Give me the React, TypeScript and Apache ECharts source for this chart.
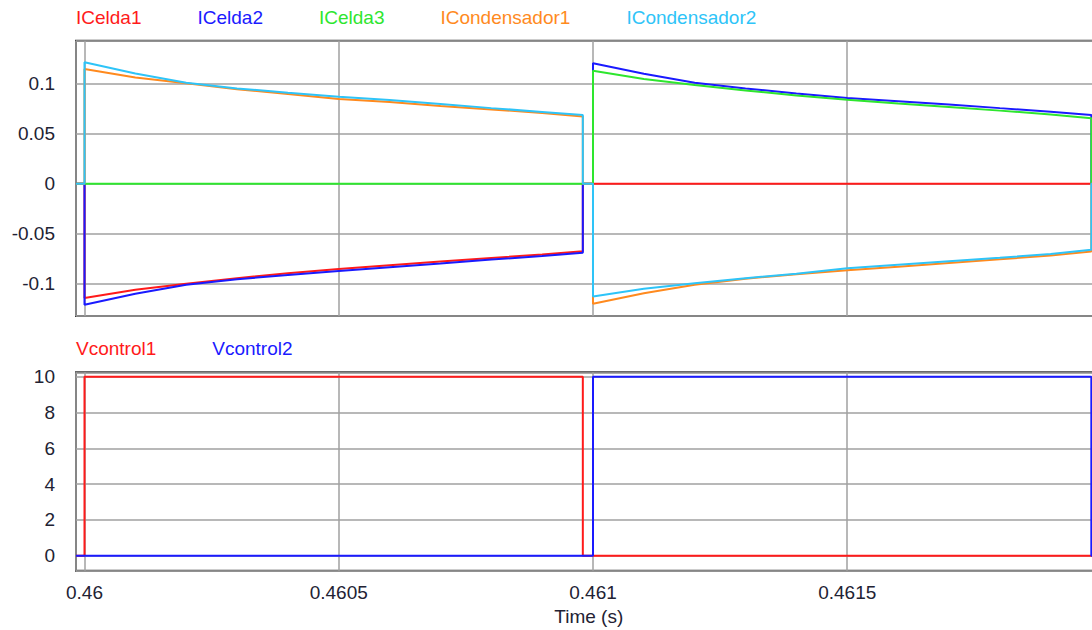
import React, { useEffect, useRef } from "react";
import * as echarts from "echarts";

// ---- Data ----
const topNames = ["ICelda1", "ICelda2", "ICelda3", "ICondensador1", "ICondensador2"];
const topColors = ["#ff1a1a", "#1a1aff", "#2ee62e", "#ff8a1e", "#2ec4f8"];
const bottomNames = ["Vcontrol1", "Vcontrol2"];
const bottomColors = ["#ff1a1a", "#1a1aff"];

const X_MIN = 0.4599833;
const X_MAX = 0.462;
const DEAD_LEVEL = 0;

// first conduction interval (s)
const timesA = [0.46, 0.4601, 0.4602, 0.4603, 0.4604, 0.4605, 0.4606, 0.4607, 0.4608, 0.4609, 0.46098];
// second conduction interval (s)
const timesB = [0.461, 0.4611, 0.4612, 0.4613, 0.4614, 0.4615, 0.4616, 0.4617, 0.4618, 0.4619, 0.46198];

const iCelda1A = [-0.1143, -0.106, -0.1, -0.0945, -0.0895, -0.0852, -0.0815, -0.0778, -0.0742, -0.0708, -0.0675];
const iCelda1B = [0, 0, 0, 0, 0, 0, 0, 0, 0, 0, 0];
const iCelda2A = [-0.121, -0.11, -0.101, -0.0955, -0.0912, -0.0872, -0.0835, -0.0798, -0.0758, -0.0722, -0.069];
const iCelda2B = [0.1207, 0.1103, 0.1012, 0.0955, 0.0905, 0.086, 0.0828, 0.0795, 0.0758, 0.0722, 0.069];
const iCelda3A = [0, 0, 0, 0, 0, 0, 0, 0, 0, 0, 0];
const iCelda3B = [0.1133, 0.105, 0.099, 0.0935, 0.0885, 0.0843, 0.0805, 0.077, 0.0733, 0.0695, 0.0657];
const iCond1A = [0.115, 0.1065, 0.1008, 0.0948, 0.09, 0.085, 0.082, 0.078, 0.0745, 0.071, 0.0673];
const iCond1B = [-0.12, -0.1095, -0.101, -0.095, -0.0905, -0.0865, -0.083, -0.0792, -0.0755, -0.0717, -0.0677];
const iCond2A = [0.1217, 0.1105, 0.1013, 0.0955, 0.0913, 0.0873, 0.0839, 0.08, 0.0758, 0.072, 0.069];
const iCond2B = [-0.1127, -0.105, -0.0995, -0.0945, -0.09, -0.0845, -0.081, -0.0775, -0.074, -0.0702, -0.066];

const vControl1Times = [X_MIN, 0.46, 0.46, 0.46098, 0.46098, X_MAX];
const vControl1Values = [0, 0, 10, 10, 0, 0];
const vControl2Times = [X_MIN, 0.461, 0.461, 0.46198, 0.46198, X_MAX];
const vControl2Values = [0, 0, 10, 10, 0, 0];

function wave(a: number[], b: number[]) {
  const pts: number[][] = [[X_MIN, DEAD_LEVEL], [timesA[0], DEAD_LEVEL]];
  timesA.forEach((t, i) => pts.push([t, a[i]]));
  pts.push([timesA[timesA.length - 1], DEAD_LEVEL], [timesB[0], DEAD_LEVEL]);
  timesB.forEach((t, i) => pts.push([t, b[i]]));
  pts.push([timesB[timesB.length - 1], DEAD_LEVEL], [X_MAX, DEAD_LEVEL]);
  return pts;
}

const topData = [
  wave(iCelda1A, iCelda1B),
  wave(iCelda2A, iCelda2B),
  wave(iCelda3A, iCelda3B),
  wave(iCond1A, iCond1B),
  wave(iCond2A, iCond2B),
];
const bottomData = [
  vControl1Times.map((t, i) => [t, vControl1Values[i]]),
  vControl2Times.map((t, i) => [t, vControl2Values[i]]),
];

const FONT = "'Liberation Sans', Arial, Helvetica, sans-serif";
const TXT = "#222233";
const GRID_LINE = { lineStyle: { color: "#a0a0a0", width: 1.5 } };

export default function App() {
  const ref = useRef<HTMLDivElement>(null);
  useEffect(() => {
    if (!ref.current) return;
    const chart = echarts.init(ref.current, undefined, { renderer: "svg" });
    const labelStyle = { fontSize: 19, color: TXT, fontFamily: FONT };
    const gridBase = {
      left: 76, width: 1025.5, show: true, borderColor: "#383838", borderWidth: 2,
      backgroundColor: "transparent", containLabel: false, outerBoundsMode: "none",
    };
    const option: any = {
      animation: false,
      backgroundColor: "#ffffff",
      textStyle: { fontFamily: FONT },
      legend: [
        {
          left: 66,
          top: 2,
          icon: "none",
          itemWidth: 0,
          itemHeight: 20,
          itemGap: 51,
          selectedMode: false,
          textStyle: { fontSize: 19, fontFamily: FONT },
          data: topNames.map((n, i) => ({ name: n, textStyle: { color: topColors[i] } })),
        },
        {
          left: 66,
          top: 333,
          icon: "none",
          itemWidth: 0,
          itemHeight: 20,
          itemGap: 51,
          selectedMode: false,
          textStyle: { fontSize: 19, fontFamily: FONT },
          data: bottomNames.map((n, i) => ({ name: n, textStyle: { color: bottomColors[i] } })),
        },
      ],
      grid: [
        { ...gridBase, top: 40.7, height: 275.3 },
        { ...gridBase, top: 372.3, height: 198.4 },
      ],
      xAxis: [
        {
          gridIndex: 0, type: "value", min: X_MIN, max: X_MAX, splitNumber: 4,
          minInterval: 0.0005, maxInterval: 0.0005,
          axisLine: { show: false }, axisTick: { show: false },
          axisLabel: { show: false }, splitLine: { show: true, ...GRID_LINE },
        },
        {
          gridIndex: 1, type: "value", min: X_MIN, max: X_MAX, splitNumber: 4,
          minInterval: 0.0005, maxInterval: 0.0005,
          axisLine: { show: false }, axisTick: { show: false },
          axisLabel: { ...labelStyle, margin: 12, showMinLabel: false, showMaxLabel: false },
          splitLine: { show: true, ...GRID_LINE },
          name: "Time (s)", nameLocation: "middle", nameGap: 36,
          nameTextStyle: labelStyle,
        },
      ],
      yAxis: [
        {
          gridIndex: 0, type: "value", min: -0.1323, max: 0.1433, splitNumber: 5,
          minInterval: 0.05, maxInterval: 0.05,
          axisLine: { show: false }, axisTick: { show: false },
          axisLabel: { ...labelStyle, margin: 21, showMinLabel: false, showMaxLabel: false },
          splitLine: { show: true, ...GRID_LINE },
        },
        {
          gridIndex: 1, type: "value", min: -0.84, max: 10.25, splitNumber: 5,
          minInterval: 2, maxInterval: 2,
          axisLine: { show: false }, axisTick: { show: false },
          axisLabel: { ...labelStyle, margin: 21, showMinLabel: false, showMaxLabel: false },
          splitLine: { show: true, ...GRID_LINE },
        },
      ],
      series: [
        ...topNames.map((n, i) => ({
          name: n, type: "line", xAxisIndex: 0, yAxisIndex: 0,
          data: topData[i], symbol: "none", silent: true,
          lineStyle: { color: topColors[i], width: 2 }, itemStyle: { color: topColors[i] },
        })),
        ...bottomNames.map((n, i) => ({
          name: n, type: "line", xAxisIndex: 1, yAxisIndex: 1,
          data: bottomData[i], symbol: "none", silent: true,
          lineStyle: { color: bottomColors[i], width: 2 }, itemStyle: { color: bottomColors[i] },
        })),
      ],
    };
    chart.setOption(option);
    return () => chart.dispose();
  }, []);
  return (
    <div
      ref={ref}
      style={{ position: "fixed", left: 0, top: 0, width: 1092, height: 630, overflow: "hidden", background: "#fff" }}
    />
  );
}
